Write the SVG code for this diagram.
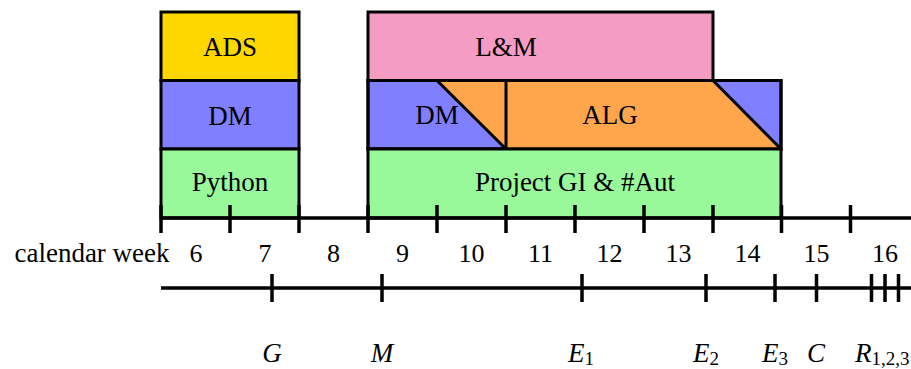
<svg xmlns="http://www.w3.org/2000/svg" width="911" height="369" viewBox="0 0 911 369">
<style>
.box{stroke:#000;stroke-width:3;stroke-linejoin:miter}
.ln{stroke:#000;stroke-width:3;fill:none}
.ax{stroke:#000;stroke-width:3.5;fill:none}
.tk{stroke:#000;stroke-width:3.5}
text{font-family:'Liberation Serif','Times New Roman',serif;fill:#000;text-anchor:middle}
.t{font-size:27px}
.wk{font-size:26px}
.it{font-size:27px;font-style:italic}
.sub{font-size:19px;font-style:normal}
</style>
<rect width="911" height="369" fill="#fff"/>
<g id="ADS"><rect class="box" x="161" y="12" width="138" height="68.5" fill="#FFD700"/><text class="t" x="230" y="56">ADS</text></g>
<g id="DM1"><rect class="box" x="161" y="80.5" width="138" height="68.5" fill="#7F7FFF"/><text class="t" x="230" y="125">DM</text></g>
<g id="Python"><rect class="box" x="161" y="149" width="138" height="69" fill="#99F899"/><text class="t" x="230" y="191">Python</text></g>
<g id="LM"><rect class="box" x="368" y="12" width="345" height="68.5" fill="#F49CC4"/><text class="t" x="506" y="56">L&amp;M</text></g>
<g id="DM2-ALG">
<rect class="box" x="368" y="80.5" width="413" height="68.5" fill="#7F7FFF"/>
<polygon points="437,80.5 713,80.5 781,149 506,149" fill="#FFA64D"/>
<line class="ln" x1="437" y1="80.5" x2="506" y2="149"/>
<line class="ln" x1="713" y1="80.5" x2="781" y2="149"/>
<line class="ln" x1="506" y1="80.5" x2="506" y2="149"/>
<rect x="368" y="80.5" width="413" height="68.5" fill="none" stroke="#000" stroke-width="3"/>
<text class="t" x="437" y="124">DM</text>
<text class="t" x="610" y="124">ALG</text>
</g>
<g id="Project"><rect class="box" x="368" y="149" width="413" height="69" fill="#99F899"/><text class="t" x="575" y="191">Project GI &amp; #Aut</text></g>
<g id="axes">
<line class="ax" x1="161" y1="218" x2="911" y2="218"/>
<g class="tk">
<line x1="161" y1="205" x2="161" y2="233"/>
<line x1="230" y1="205" x2="230" y2="233"/>
<line x1="299" y1="205" x2="299" y2="233"/>
<line x1="368" y1="205" x2="368" y2="233"/>
<line x1="437" y1="205" x2="437" y2="233"/>
<line x1="506" y1="205" x2="506" y2="233"/>
<line x1="575" y1="205" x2="575" y2="233"/>
<line x1="644" y1="205" x2="644" y2="233"/>
<line x1="713" y1="205" x2="713" y2="233"/>
<line x1="781.5" y1="205" x2="781.5" y2="233"/>
<line x1="850.5" y1="205" x2="850.5" y2="233"/>
</g>
<line class="ax" x1="161" y1="288" x2="911" y2="288"/>
<g class="tk">
<line x1="272" y1="274" x2="272" y2="302"/>
<line x1="382" y1="274" x2="382" y2="302"/>
<line x1="582" y1="274" x2="582" y2="302"/>
<line x1="706" y1="274" x2="706" y2="302"/>
<line x1="775" y1="274" x2="775" y2="302"/>
<line x1="816.5" y1="274" x2="816.5" y2="302"/>
<line x1="871.5" y1="274" x2="871.5" y2="302"/>
<line x1="885" y1="274" x2="885" y2="302"/>
<line x1="898.5" y1="274" x2="898.5" y2="302"/>
</g>
</g>
<g id="weeks">
<text class="t" x="92" y="262">calendar week</text>
<text class="wk" x="196" y="262">6</text>
<text class="wk" x="265" y="262">7</text>
<text class="wk" x="333.5" y="262">8</text>
<text class="wk" x="402.5" y="262">9</text>
<text class="wk" x="471.5" y="262">10</text>
<text class="wk" x="540.5" y="262">11</text>
<text class="wk" x="609.5" y="262">12</text>
<text class="wk" x="678.5" y="262">13</text>
<text class="wk" x="747.5" y="262">14</text>
<text class="wk" x="816.5" y="262">15</text>
<text class="wk" x="885" y="262">16</text>
</g>
<g id="milestones">
<text class="it" x="272" y="362">G</text>
<text class="it" x="382" y="362">M</text>
<text class="it" x="581" y="362">E<tspan class="sub" dy="3">1</tspan></text>
<text class="it" x="706" y="362">E<tspan class="sub" dy="3">2</tspan></text>
<text class="it" x="775" y="362">E<tspan class="sub" dy="3">3</tspan></text>
<text class="it" x="816" y="362">C</text>
<text class="it" x="855" y="362" style="text-anchor:start">R<tspan class="sub" dy="3">1,2,3</tspan></text>
</g>
</svg>
